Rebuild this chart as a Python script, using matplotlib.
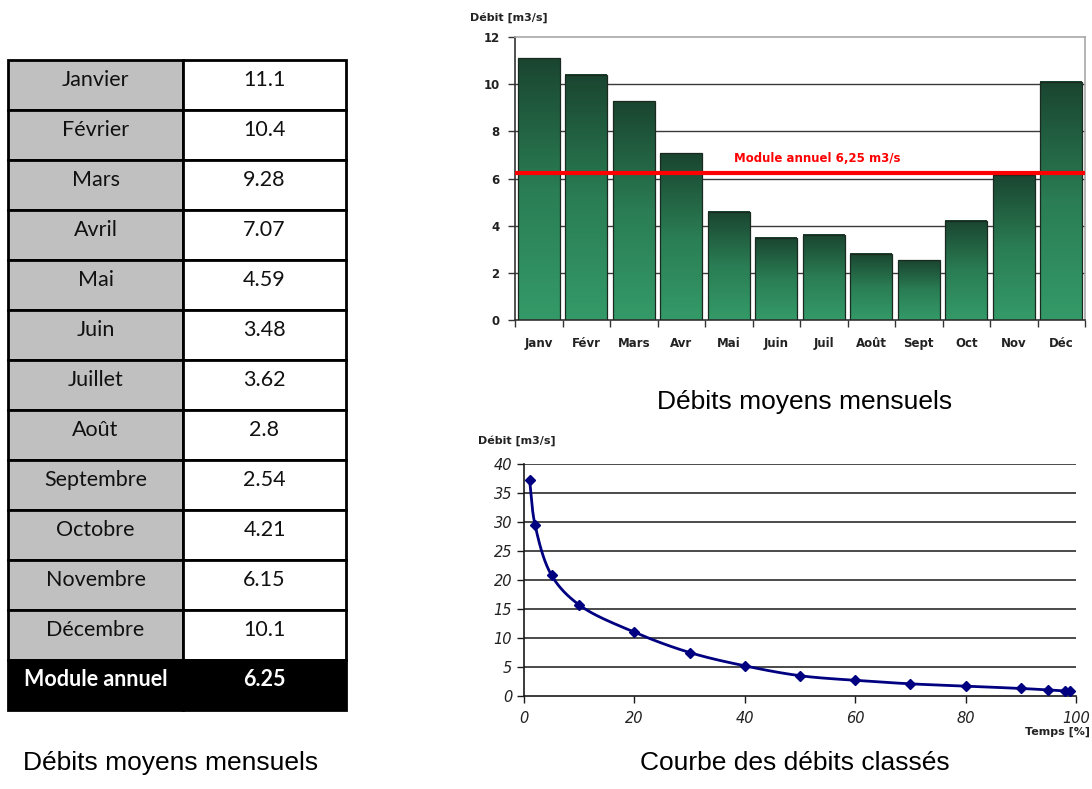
import numpy as np
import matplotlib
matplotlib.use("Agg")
import matplotlib.pyplot as plt
from matplotlib.patches import Rectangle
from matplotlib.colors import LinearSegmentedColormap

# ---- data -------------------------------------------------------------
months_full = ["Janvier", "Février", "Mars", "Avril", "Mai", "Juin", "Juillet",
               "Août", "Septembre", "Octobre", "Novembre", "Décembre"]
months_short = ["Janv", "Févr", "Mars", "Avr", "Mai", "Juin", "Juil",
                "Août", "Sept", "Oct", "Nov", "Déc"]
monthly_flow = [11.1, 10.4, 9.28, 7.07, 4.59, 3.48, 3.62, 2.8, 2.54, 4.21, 6.15, 10.1]
annual_module = 6.25

duration_pct = [1, 2, 5, 10, 20, 30, 40, 50, 60, 70, 80, 90, 95, 98, 99]
duration_flow = [37.3, 29.5, 20.8, 15.7, 11.0, 7.5, 5.2, 3.5, 2.7, 2.1, 1.7, 1.3, 1.05, 0.85, 0.85]

W, H = 1092, 789
fig = plt.figure(figsize=(W / 100, H / 100), dpi=100)
fig.patch.set_facecolor("white")

TABLE_FONT = ["Lato", "DejaVu Sans"]
CHART_FONT = ["DejaVu Sans"]
TITLE_FONT = ["Liberation Sans", "DejaVu Sans"]


def fig_rect(left, top, right, bottom):
    """Axes rectangle from pixel edges (origin top-left)."""
    return [left / W, 1 - bottom / H, (right - left) / W, (bottom - top) / H]


# ---- table ------------------------------------------------------------
canvas = fig.add_axes([0, 0, 1, 1])
canvas.set_xlim(0, W)
canvas.set_ylim(H, 0)
canvas.axis("off")

x0, xm, x1 = 8, 183, 346
top, row_h = 60, 50
rows = list(zip(months_full, [f"{v:g}" for v in monthly_flow]))
rows.append(("Module annuel", f"{annual_module:g}"))
for i, (name, val) in enumerate(rows):
    y = top + i * row_h
    last = i == len(rows) - 1
    lc = "black" if last else "#c0c0c0"
    rc = "black" if last else "white"
    canvas.add_patch(Rectangle((x0, y), xm - x0, row_h, facecolor=lc,
                               edgecolor="black", lw=2.0, zorder=1))
    canvas.add_patch(Rectangle((xm, y), x1 - xm, row_h, facecolor=rc,
                               edgecolor="black", lw=2.0, zorder=1))
    tc = "white" if last else "#111111"
    fw = "bold" if last else "normal"
    ty = y + row_h * 0.39
    canvas.text((x0 + xm) / 2, ty, name, ha="center", va="center",
                fontsize=15.5, color=tc, fontweight=fw, family=TABLE_FONT, zorder=2)
    canvas.text((xm + x1) / 2, ty, val, ha="center", va="center",
                fontsize=15.5, color=tc, fontweight=fw, family=TABLE_FONT, zorder=2)

canvas.text(171, 763, "Débits moyens mensuels", ha="center", va="center",
            fontsize=19, family=TITLE_FONT, color="black")
canvas.text(805, 402, "Débits moyens mensuels", ha="center", va="center",
            fontsize=19, family=TITLE_FONT, color="black")
canvas.text(795, 763, "Courbe des débits classés", ha="center", va="center",
            fontsize=19, family=TITLE_FONT, color="black")

# ---- monthly bar chart ---------------------------------------------------
ax = fig.add_axes(fig_rect(515, 37, 1085, 320))
ax.set_zorder(2)
ax.patch.set_alpha(0)
x = np.arange(len(monthly_flow))
for g in range(2, 12, 2):
    ax.axhline(g, color="#3a3a3a", lw=1.0, zorder=0)

green = LinearSegmentedColormap.from_list("bar_green", ["#349a68", "#2a7d54", "#1a4530"])
grad = np.linspace(0, 1, 256).reshape(-1, 1)
bw = 0.88
bars = ax.bar(x, monthly_flow, width=bw, facecolor="none",
              edgecolor="#1b2a20", lw=0.9, zorder=3)
for b in bars:
    bx, bh = b.get_x(), b.get_height()
    ax.imshow(grad, extent=(bx, bx + bw, 0, bh), origin="lower", cmap=green,
              aspect="auto", zorder=2, interpolation="bilinear")
ax.set_xlim(-0.5, len(monthly_flow) - 0.5)
ax.set_ylim(0, 12)
ax.set_yticks(range(0, 13, 2))

ax.axhline(annual_module, color="#ff0000", lw=3.0, zorder=4)
ax.text(4.1, annual_module + 0.6, "Module annuel 6,25 m3/s", color="#ff0000",
        fontsize=8.5, fontweight="bold", family=CHART_FONT, va="center", ha="left", zorder=5)

ax.set_xticks(x)
ax.set_xticklabels(months_short, fontsize=8.5, family=CHART_FONT, color="#222222")
ax.set_xticks(np.arange(-0.5, len(monthly_flow)), minor=True)
ax.tick_params(axis="x", which="major", length=0, pad=12)
ax.tick_params(axis="x", which="minor", length=5, width=1.0, color="#333333", direction="out")
ax.tick_params(axis="y", length=5, width=1.0, color="#333333", direction="out",
               labelsize=8.5, pad=6)
for lab in ax.get_yticklabels():
    lab.set_family(CHART_FONT)
    lab.set_fontweight("bold")
    lab.set_color("#222222")
for lab in ax.get_xticklabels():
    lab.set_fontweight("bold")
for side in ("left", "bottom"):
    ax.spines[side].set_color("#333333")
    ax.spines[side].set_linewidth(1.2)
for side in ("top", "right"):
    ax.spines[side].set_color("#a8a8a8")
    ax.spines[side].set_linewidth(1.2)
canvas.text(470, 18, "Débit [m3/s]", fontsize=8, fontweight="bold",
            family=CHART_FONT, ha="left", va="center", color="#222222")

# ---- flow duration curve ---------------------------------------------------
ax2 = fig.add_axes(fig_rect(524, 464, 1076, 696))
ax2.set_zorder(2)
ax2.patch.set_alpha(0)
ax2.set_xlim(0, 100)
ax2.set_ylim(0, 40)
ax2.set_xticks(range(0, 101, 20))
ax2.set_yticks(range(0, 41, 5))
for g in range(5, 41, 5):
    ax2.axhline(g, color="#1a1a1a", lw=1.1, zorder=0)


def smooth_curve(px, py, n=40, alpha=0.5):
    """Centripetal Catmull-Rom spline through the given points."""
    P = np.column_stack([np.asarray(px, float), np.asarray(py, float)])
    P = np.vstack([2 * P[0] - P[1], P, 2 * P[-1] - P[-2]])
    out = []
    for i in range(1, len(P) - 2):
        p0, p1, p2, p3 = P[i - 1], P[i], P[i + 1], P[i + 2]
        t0 = 0.0
        t1 = t0 + max(np.linalg.norm(p1 - p0), 1e-9) ** alpha
        t2 = t1 + max(np.linalg.norm(p2 - p1), 1e-9) ** alpha
        t3 = t2 + max(np.linalg.norm(p3 - p2), 1e-9) ** alpha
        t = np.linspace(t1, t2, n, endpoint=False)[:, None]
        a1 = (t1 - t) / (t1 - t0) * p0 + (t - t0) / (t1 - t0) * p1
        a2 = (t2 - t) / (t2 - t1) * p1 + (t - t1) / (t2 - t1) * p2
        a3 = (t3 - t) / (t3 - t2) * p2 + (t - t2) / (t3 - t2) * p3
        b1 = (t2 - t) / (t2 - t0) * a1 + (t - t0) / (t2 - t0) * a2
        b2 = (t3 - t) / (t3 - t1) * a2 + (t - t1) / (t3 - t1) * a3
        c = (t2 - t) / (t2 - t1) * b1 + (t - t1) / (t2 - t1) * b2
        out.append(c)
    out.append(P[-2][None, :])
    out = np.vstack(out)
    return out[:, 0], out[:, 1]


sx, sy = smooth_curve(duration_pct, duration_flow)
ax2.plot(sx, sy, color="#000080", lw=2.0, zorder=3, solid_capstyle="round")
ax2.plot(duration_pct, duration_flow, ls="none", marker="D", ms=5,
         color="#000080", zorder=4)

ax2.tick_params(axis="both", length=5, width=1.0, color="#1a1a1a", direction="out",
                labelsize=10.5, colors="#222222")
ax2.tick_params(axis="x", pad=6)
for lab in ax2.get_xticklabels() + ax2.get_yticklabels():
    lab.set_family(CHART_FONT)
    lab.set_style("italic")
for side in ("top", "right"):
    ax2.spines[side].set_visible(False)
for side in ("left", "bottom"):
    ax2.spines[side].set_color("#1a1a1a")
    ax2.spines[side].set_linewidth(1.2)
canvas.text(478, 441, "Débit [m3/s]", fontsize=8, fontweight="bold",
            family=CHART_FONT, ha="left", va="center", color="#222222")
canvas.text(1090, 732, "Temps [%]", fontsize=8, fontweight="bold",
            family=CHART_FONT, ha="right", va="center", color="#222222")

fig.savefig("out.png", dpi=100, facecolor="white")
